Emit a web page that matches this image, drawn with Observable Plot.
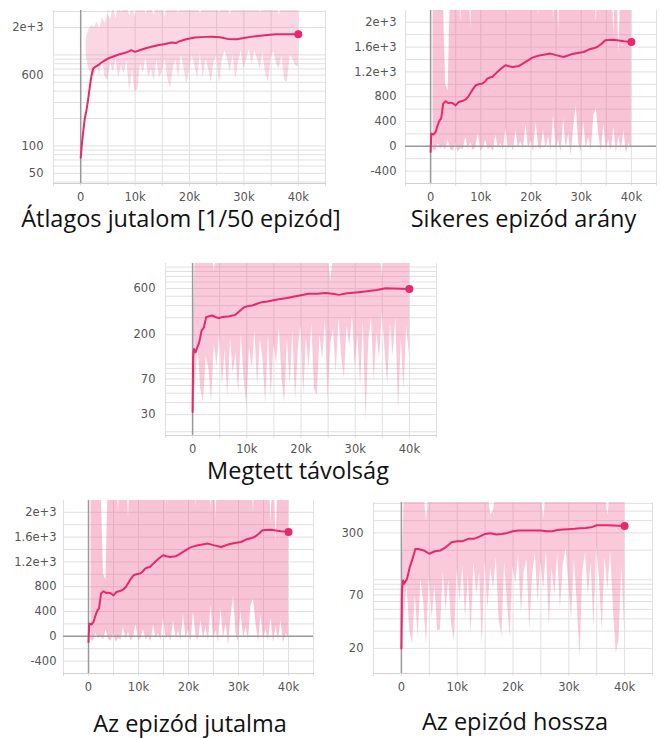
<!DOCTYPE html>
<html><head><meta charset="utf-8">
<script src="https://cdn.jsdelivr.net/npm/d3@7"></script>
<script src="https://cdn.jsdelivr.net/npm/@observablehq/plot@0.6"></script>
<style>
body{margin:0;background:#fff;}
#wrap{position:relative;width:661px;height:738px;overflow:hidden;background:#fff;}
#wrap svg{position:absolute;}
</style></head><body><div id="wrap"></div>
<script>
// ---- shared axes ----
const xGridSteps = [-5000, 0, 5000, 10000, 15000, 20000, 25000, 30000, 35000, 40000, 45000];
const xTickSteps = [0, 10000, 20000, 30000, 40000];
const xTickLabels = ["0", "10k", "20k", "30k", "40k"];
const rawSteps = d3.range(0, 40001, 500);

const captionTexts = ["Átlagos jutalom [1/50 epizód]", "Sikeres epizód arány", "Megtett távolság", "Az epizód jutalma", "Az epizód hossza"];

// ---- Panel 1: average reward (log) ----
const avgYTicks = [50, 100, 600, 2000];
const avgYLabels = ["50", "100", "600", "2e+3"];
const avgYGrid = [40, 50, 60, 70, 80, 90, 100, 200, 300, 400, 500, 600, 700, 800, 900, 1000, 2000, 3000];
const avgRawLow = [
  null, null, 1000, 700, 620, 560, 800, 600, 900, 560,
  520, 820, 640, 900, 560, 760, 620, 850, 400, 700,
  390, 420, 800, 620, 950, 560, 700, 520, 880, 560,
  650, 900, 560, 420, 700, 900, 560, 1000, 720, 480,
  650, 1000, 760, 560, 1050, 560, 900, 700, 500, 820,
  1000, 480, 870, 1100, 900, 640, 1000, 540, 820, 1100,
  700, 880, 1150, 780, 1100, 900, 700, 1050, 620, 500,
  900, 1100, 800, 700, 1000, 520, 500, 1000, 900, 760,
  740];
const avgRawHigh = [
  null, null, 1500, 1900, 2100, 2000, 2300, 1900, 2600, 2200,
  2800, 2400, 3400, 2500, 3500, 2900, 3400, 3600, 2700, 3200,
  2600, 3500, 3000, 3600, 2800, 3500, 3300, 2700, 3600, 3200,
  3500, 2600, 3500, 3000, 3600, 3400, 2900, 3600, 3300, 3500,
  3000, 3600, 3400, 3600, 2800, 3500, 3300, 3600, 3100, 3500,
  3600, 2900, 3500, 3300, 3600, 2700, 3400, 3600, 3200, 3500,
  3600, 3000, 3500, 3600, 3300, 3500, 2900, 3600, 3400, 3600,
  3200, 3500, 3600, 2700, 3500, 3600, 3300, 3500, 3600, 3100,
  3400];
const avgSmoothSteps = [0,250,500,750,1000,1250,1500,1750,2000,2300,2700,3200,4000,5000,6000,7000,8000,8700,9300,10000,11000,11800,13000,14200,15500,16700,17500,18000,19200,21000,22900,24000,25600,27000,28700,30000,31200,33000,34800,36000,38000,40000];
const avgSmoothValues = [74,110,150,200,236,290,370,480,600,709,740,770,840,912,960,1010,1050,1080,1127,1079,1130,1175,1230,1278,1320,1369,1350,1400,1476,1552,1578,1580,1560,1500,1490,1530,1578,1620,1670,1690,1685,1687];

// ---- Panels 2 & 4: episode reward (linear) ----
const rewardYTicks = [-400, 0, 400, 800, 1200, 1600, 2000];
const rewardYLabels = ["-400", "0", "400", "800", "1.2e+3", "1.6e+3", "2e+3"];
const rewardYGrid = [-400, -200, 0, 200, 400, 600, 800, 1000, 1200, 1400, 1600, 1800, 2000];
const rewardRawLow = [
  null, -60, -80, 50, -40, 0, -60, 100, -50, -80,
  40, -100, -30, -60, 150, -50, 60, -70, -20, 200,
  -80, -30, 100, -60, 0, -90, 180, -40, 50, -70,
  300, -50, 20, -80, 250, -30, 80, -60, 350, -40,
  100, -90, 400, 0, -60, 250, -30, 150, -80, 500,
  -50, 100, -100, 450, -40, 200, -150, 300, 650, 50,
  -90, 400, -30, 150, -70, 500, 600, 200, -100, 350,
  -50, 100, -80, 300, -110, 150, -60, 250, -120, 50,
  -30];
const rewardRawHigh = [
  null, 2600, 3000, 2800, 3000, 2500, 1000, 900, 2800, 3000,
  2600, 3000, 2000, 3000, 2900, 3000, 1900, 3000, 2800, 3000,
  2500, 3000, 3000, 2700, 3000, 3000, 2800, 3000, 3000, 2900,
  3000, 2100, 3000, 3000, 2800, 3000, 3000, 2700, 3000, 3000,
  2900, 3000, 3000, 2100, 3000, 3000, 2900, 3000, 3000, 2050,
  3000, 1900, 3000, 2800, 3000, 3000, 2900, 3000, 3000, 2700,
  3000, 3000, 2900, 3000, 3000, 3000, 2000, 3000, 3000, 3000,
  2900, 3000, 3000, 1800, 3000, 1500, 2800, 3000, 3000, 3000,
  2700];
const rewardSmoothSteps = [0,150,600,1000,1300,1600,1800,2100,2300,2500,3000,3500,4000,4500,5000,5600,6300,7000,7500,8000,8500,9000,9600,10300,10800,11300,11800,12300,12800,13300,14000,14900,15600,16300,17000,17600,18300,18900,19500,20200,21000,21900,22800,23900,25000,26500,27200,27900,29000,30500,31500,32400,33200,34000,34800,35600,36500,37500,38500,39300,40000];
const rewardSmoothValues = [-92,205,190,231,312,380,420,446,560,688,726,700,704,690,660,715,730,758,800,866,930,984,1000,1011,1040,1092,1110,1118,1160,1199,1250,1307,1290,1280,1285,1296,1330,1360,1390,1425,1450,1468,1480,1495,1470,1441,1460,1479,1500,1521,1560,1580,1602,1650,1710,1715,1720,1705,1694,1688,1682];

// ---- Panel 3: distance travelled (log) ----
const distYTicks = [30, 70, 200, 600];
const distYLabels = ["30", "70", "200", "600"];
const distYGrid = [20, 30, 40, 50, 60, 70, 80, 90, 100, 200, 300, 400, 500, 600, 700, 800, 900, 1000];
const distRawLow = [
  30, 60, 150, 56, 40, 120, 90, 40, 160, 95,
  200, 60, 140, 45, 180, 80, 130, 50, 200, 70,
  37, 150, 90, 220, 60, 180, 110, 38, 200, 45,
  160, 100, 240, 70, 40, 180, 60, 220, 42, 140,
  250, 47, 190, 90, 260, 55, 47, 200, 110, 280,
  44, 160, 230, 80, 300, 120, 71, 250, 150, 320,
  90, 200, 60, 280, 26, 170, 300, 65, 210, 110,
  350, 140, 62, 260, 120, 300, 33, 180, 55, 250,
  122];
const distRawHigh = [
  150, 1400, 1600, 1300, 1500, 1700, 1400, 1600, 900, 1500,
  1250, 1600, 1450, 1700, 1500, 1350, 1600, 1400, 1550, 1700,
  1300, 1650, 1400, 1500, 1750, 1300, 1600, 1450, 1500, 1700,
  1350, 1600, 1400, 1550, 1700, 1300, 1650, 1400, 1500, 1750,
  1300, 1600, 1450, 1500, 1700, 1350, 1600, 1400, 1550, 1700,
  1300, 700, 1400, 1500, 1650, 1300, 1600, 1450, 1500, 1700,
  1350, 1600, 1400, 1550, 1700, 1300, 1650, 1400, 1500, 1750,
  800, 1600, 1450, 1500, 1700, 1350, 1600, 1400, 1550, 1700,
  1300];
const distSmoothSteps = [0,100,250,550,900,1200,1650,2100,2300,2500,3000,3600,4200,4850,5500,6400,7200,7900,8800,9500,10200,11000,12000,12800,13800,14700,15600,16500,17500,19000,20000,21400,23000,24500,25800,27000,28500,30700,32500,34000,35600,37000,38500,40000];
const distSmoothValues = [32,120,143,132,150,165,221,239,270,303,310,316,305,297,305,308,315,321,356,385,395,401,420,434,440,451,462,470,478,500,512,529,530,541,530,516,535,550,565,580,604,600,597,595];

// ---- Panel 5: episode length (log) ----
const lenYTicks = [20, 70, 300];
const lenYLabels = ["20", "70", "300"];
const lenYGrid = [20, 30, 40, 50, 60, 70, 80, 90, 100, 200, 300, 400, 500, 600];
const lenRawLow = [
  20, 40, 90, 30, 22, 70, 26, 100, 60, 22,
  110, 40, 90, 30, 31, 120, 50, 100, 35, 24,
  130, 60, 140, 40, 110, 28, 150, 70, 120, 21.5,
  160, 50, 130, 80, 170, 40, 26, 150, 60, 26,
  140, 90, 180, 45, 120, 160, 31, 110, 190, 60,
  150, 80, 200, 33, 130, 70, 180, 50, 140, 210,
  90, 40, 160, 60, 16, 120, 190, 70, 150, 33,
  220, 100, 31, 170, 80, 200, 50, 18, 24, 140,
  31];
const lenRawHigh = [
  60, 700, 800, 700, 800, 700, 800, 700, 800, 400,
  800, 700, 800, 800, 700, 800, 800, 700, 800, 800,
  700, 800, 800, 700, 800, 800, 700, 800, 800, 700,
  800, 800, 450, 500, 800, 800, 700, 800, 800, 700,
  800, 800, 700, 800, 800, 700, 800, 800, 700, 800,
  800, 420, 800, 800, 700, 800, 800, 700, 800, 800,
  700, 800, 800, 700, 800, 800, 700, 800, 800, 700,
  800, 800, 700, 800, 450, 800, 800, 700, 800, 800,
  700];
const lenSmoothSteps = [0,100,300,500,1000,1500,2000,2500,3000,4000,5000,6000,7000,8000,9000,10000,11000,12000,13000,14000,15000,16000,17000,18000,19000,20000,21000,22000,23000,24000,25000,26000,27000,28000,29000,30000,31000,32000,33000,34000,35000,36000,37000,38000,39000,40000];
const lenSmoothValues = [20,78,98,91,102,134,163,206,206,199,184,195,199,215,241,247,247,261,261,275,293,298,289,293,300,312,317,317,318,317,317,312,312,321,324,327,330,334,337,342,359,360,358,356,355,353];

const pink = "#e8286e";
const wrap = document.getElementById("wrap");

function makePanel(cfg) {
  const raw = rawSteps.map((s, i) => ({s, lo: cfg.low[i], hi: cfg.high[i]}));
  const sm = cfg.smoothSteps.map((s, i) => ({s, v: cfg.smoothValues[i]}));
  const yLab = cfg.yTicks.map((t, i) => ({t, label: cfg.yLabels[i]}));
  const xLab = xTickSteps.map((t, i) => ({t, label: xTickLabels[i]}));
  const marks = [
    Plot.ruleX(xGridSteps, {stroke: "#e0e0e0", insetBottom: -3}),
    Plot.ruleY(cfg.yGrid, {stroke: "#e0e0e0"}),
    Plot.areaY(raw, {x: "s", y1: "lo", y2: "hi", fill: "#f06292", fillOpacity: cfg.rawOpacity, clip: true}),
    Plot.ruleX([0], {stroke: "#9a9a9a", strokeWidth: 1.5})
  ];
  if (cfg.type === "linear") marks.push(Plot.ruleY([0], {stroke: "#9a9a9a", strokeWidth: 1.5}));
  marks.push(
    Plot.frame({anchor: "bottom", stroke: "#d0d0d0"}),
    Plot.text(xLab, {x: "t", text: "label", frameAnchor: "bottom", lineAnchor: "middle", dy: 14, fill: "#555"}),
    Plot.text(yLab, {y: "t", text: "label", frameAnchor: "left", textAnchor: "end", dx: -cfg.yPad, fill: "#555"}),
    Plot.line(sm, {x: "s", y: "v", stroke: pink, strokeWidth: 2, clip: true}),
    Plot.dot(sm, Plot.selectLast({x: "s", y: "v", r: 4, fill: pink}))
  );
  const svg = Plot.plot({
    width: cfg.width, height: cfg.height,
    marginLeft: cfg.mL, marginRight: cfg.mR, marginTop: cfg.mT, marginBottom: cfg.mB,
    x: {domain: [-5000, 45000], label: null, axis: null},
    y: {type: cfg.type, domain: cfg.domain, label: null, axis: null},
    style: {fontFamily: "DejaVu Sans", fontSize: "11.5px", color: "#555", background: "transparent"},
    marks
  });
  svg.style.left = cfg.left + "px";
  svg.style.top = cfg.top + "px";
  wrap.appendChild(svg);
}

makePanel({left: 0, top: 0, width: 330, height: 208, mL: 53, mR: 5, mT: 10, mB: 25, type: "log", domain: [38.6, 3076], rawOpacity: 0.26,
  yTicks: avgYTicks, yLabels: avgYLabels, yGrid: avgYGrid, yPad: 10, low: avgRawLow, high: avgRawHigh, smoothSteps: avgSmoothSteps, smoothValues: avgSmoothValues});
makePanel({left: 330, top: 0, width: 331, height: 208, mL: 75, mR: 5, mT: 10, mB: 25, type: "linear", domain: [-600, 2190], rawOpacity: 0.38,
  yTicks: rewardYTicks, yLabels: rewardYLabels, yGrid: rewardYGrid, yPad: 9, low: rewardRawLow, high: rewardRawHigh, smoothSteps: rewardSmoothSteps, smoothValues: rewardSmoothValues});
makePanel({left: 120, top: 250, width: 330, height: 210, mL: 45, mR: 14, mT: 13, mB: 25, type: "log", domain: [18.3, 1087], rawOpacity: 0.34,
  yTicks: distYTicks, yLabels: distYLabels, yGrid: distYGrid, yPad: 10, low: distRawLow, high: distRawHigh, smoothSteps: distSmoothSteps, smoothValues: distSmoothValues});
makePanel({left: 0, top: 490, width: 330, height: 208, mL: 63, mR: 17, mT: 10, mB: 25, type: "linear", domain: [-600, 2190], rawOpacity: 0.38,
  yTicks: rewardYTicks, yLabels: rewardYLabels, yGrid: rewardYGrid, yPad: 7, low: rewardRawLow, high: rewardRawHigh, smoothSteps: rewardSmoothSteps, smoothValues: rewardSmoothValues});
makePanel({left: 330, top: 490, width: 331, height: 208, mL: 43, mR: 9, mT: 12, mB: 25, type: "log", domain: [11.1, 612], rawOpacity: 0.34,
  yTicks: lenYTicks, yLabels: lenYLabels, yGrid: lenYGrid, yPad: 10, low: lenRawLow, high: lenRawHigh, smoothSteps: lenSmoothSteps, smoothValues: lenSmoothValues});

// captions
const capPos = [[181, 227], [523.5, 227], [298, 479], [190, 732], [515, 730]];
const cap = d3.create("svg").attr("width", 661).attr("height", 738).style("left", "0px").style("top", "0px");
captionTexts.forEach((t, i) => {
  cap.append("text").attr("x", capPos[i][0]).attr("y", capPos[i][1]).attr("text-anchor", "middle")
    .attr("font-family", "Open Sans").attr("font-size", "23.5px").attr("fill", "#111").text(t);
});
wrap.appendChild(cap.node());
</script></body></html>
